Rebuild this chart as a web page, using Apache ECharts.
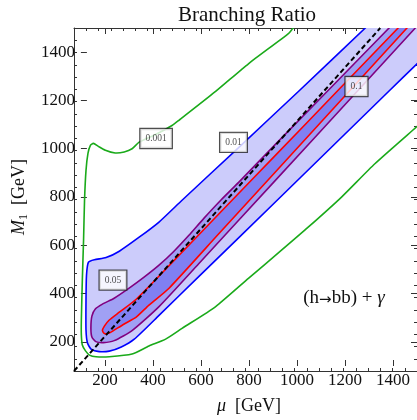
<!DOCTYPE html>
<html>
<head>
<meta charset="utf-8">
<script src="https://cdn.jsdelivr.net/npm/echarts@6/dist/echarts.min.js"></script>
<style>
  html, body { margin: 0; padding: 0; background: #fff; }
  #chart { width: 417px; height: 420px; }
</style>
</head>
<body>
<div id="chart"></div>
<script>
// Contour levels of the branching ratio, in the order their labels are placed
const levels = [0.001, 0.01, 0.05, 0.1];

// Tick values on both frame axes
const majorTicks = [200, 400, 600, 800, 1000, 1200, 1400];

// Reference line in the (mu, M1) plane
const diagonal = [[100, 100], [1350, 1500]];

// Contour BR = 0.001 (open curve, runs off the top and right edges)
const contour001 = [
  [1070, 1560], [995, 1500], [975, 1477], [812, 1354], [678, 1241], [528, 1123],
  [500, 1102], [435, 1066], [366, 1034], [337, 1007], [305, 994], [268, 990],
  [228, 1001], [199, 1017], [179, 1029], [167, 1021], [157, 988], [149, 919],
  [143, 797], [139, 634], [134, 471], [130, 308], [130, 247], [134, 206],
  [147, 182], [163, 165], [190, 158], [244, 158], [337, 169], [406, 202],
  [474, 230], [541, 274], [677, 362], [812, 478], [947, 593], [1057, 688],
  [1192, 810], [1328, 946], [1500, 1098], [1560, 1151]
];

// Contour BR = 0.01
const contour01 = [
  [1352, 1560], [1289, 1500], [1017, 1242], [773, 1013], [541, 797], [447, 708],
  [366, 646], [285, 589], [231, 563], [183, 554], [159, 544], [151, 491],
  [149, 389], [149, 267], [155, 214], [171, 188], [203, 179], [244, 181],
  [293, 198], [346, 230], [447, 327], [609, 485], [922, 790], [1388, 1245],
  [1500, 1354], [1560, 1413]
];
const contour01Closure = [[1620, 1620]];

// Contour BR = 0.05
const contour05 = [
  [1445, 1560], [1386, 1500], [1137, 1245], [918, 1021], [772, 870], [699, 797],
  [630, 723], [569, 654], [508, 589], [447, 532], [386, 483], [325, 438],
  [264, 397], [216, 373], [187, 353], [173, 324], [169, 275], [173, 239],
  [189, 220], [220, 216], [264, 224], [337, 265], [447, 363], [609, 538],
  [922, 878], [1259, 1245], [1493, 1500], [1548, 1560]
];

// Contour BR = 0.1
const contour1 = [
  [1481, 1560], [1423, 1500], [1177, 1245], [922, 980], [690, 740], [488, 530],
  [354, 393], [285, 340], [244, 308], [224, 283], [216, 265], [224, 253],
  [244, 255], [264, 267], [305, 292], [354, 320], [406, 369], [488, 438],
  [690, 659], [922, 912], [1226, 1245], [1459, 1500], [1514, 1560]
];

// Where each level's label sits (same order as levels)
const labelAt = [[435, 1049], [751, 1033], [259, 471], [1253, 1261]];

const SERIF = '"Liberation Serif", "Times New Roman", "DejaVu Serif", serif';
const FRAME = '#333';

function frameAxis(position, gridIndex, major, showLabels, extra) {
  const axis = {
    type: 'value', gridIndex: gridIndex, position: position,
    min: 100, max: 1500,
    axisLine: { show: !major, onZero: false, lineStyle: { color: FRAME, width: 1 } },
    splitLine: { show: false },
    axisTick: { show: true, inside: true, length: major ? 6 : 3, lineStyle: { color: FRAME, width: 1 } },
    axisLabel: { show: false }
  };
  if (major) {
    axis.axisTick.customValues = majorTicks;
    axis.axisLabel = {
      show: showLabels, customValues: majorTicks,
      formatter: function (v) { return String(v); },
      fontFamily: SERIF, fontSize: 17, color: '#111', margin: 6
    };
  } else {
    axis.interval = 50;
  }
  return Object.assign(axis, extra || {});
}

function contourSeries(points, closure, fill, stroke, width) {
  return {
    type: 'custom', xAxisIndex: 0, yAxisIndex: 0, clip: true, silent: true,
    data: [points[1]],
    renderItem: function (params, api) {
      const pts = points.map(function (p) { return api.coord(p); });
      if (fill) {
        const poly = pts.concat((closure || []).map(function (p) { return api.coord(p); }));
        return { type: 'polygon', shape: { points: poly, smooth: 0.2 }, style: { fill: fill, stroke: null } };
      }
      return { type: 'polyline', shape: { points: pts, smooth: 0.2 },
               style: { stroke: stroke, lineWidth: width, fill: null, lineJoin: 'round' } };
    }
  };
}

const chart = echarts.init(document.getElementById('chart'), null, { renderer: 'canvas' });

chart.setOption({
  animation: false,
  backgroundColor: '#fff',
  grid: [
    { left: 74, right: -3, top: 28, bottom: 49 },
    { left: 74, right: -3, top: 28, bottom: 49 }
  ],
  xAxis: [
    frameAxis('bottom', 0, false),
    frameAxis('top', 0, false),
    frameAxis('bottom', 1, true, true, {
      name: '{i|\u03bc}  [GeV]', nameLocation: 'middle', nameGap: 31,
      nameTextStyle: { fontFamily: SERIF, fontSize: 18, color: '#111',
        rich: { i: { fontFamily: SERIF, fontSize: 18, fontStyle: 'italic', color: '#111' } } }
    }),
    frameAxis('top', 1, true, false)
  ],
  yAxis: [
    frameAxis('left', 0, false),
    frameAxis('right', 0, false),
    frameAxis('left', 1, true, true, {
      name: '{i|M}{s|1}  [GeV]', nameLocation: 'middle', nameGap: 46, nameRotate: 90,
      nameTextStyle: { fontFamily: SERIF, fontSize: 18, color: '#111',
        rich: {
          i: { fontFamily: SERIF, fontSize: 18, fontStyle: 'italic', color: '#111' },
          s: { fontFamily: SERIF, fontSize: 12, color: '#111', lineHeight: 12, padding: [10, 0, 0, 0] }
        } }
    }),
    frameAxis('right', 1, true, false)
  ],
  graphic: [
    { type: 'text', x: 247, y: 15, silent: true,
      style: { text: 'Branching Ratio', fontFamily: SERIF, fontSize: 21, fill: '#111',
               align: 'center', verticalAlign: 'middle' } },
    { type: 'text', x: 344, y: 298, silent: true, z: 20,
      style: { text: '(h{a|\u2192}bb) + {g|\u03b3}', fontFamily: SERIF, fontSize: 19, fill: '#111',
               align: 'center', verticalAlign: 'middle',
               rich: {
                 a: { fontFamily: '"DejaVu Sans", sans-serif', fontSize: 15, fill: '#111', padding: [5, 0, 0, 0] },
                 g: { fontFamily: SERIF, fontSize: 19, fontStyle: 'italic', fill: '#111' }
               } } }
  ],
  series: [
    contourSeries(contour01, contour01Closure, '#CCCCFB'),
    contourSeries(contour05, null, '#A0A0F4'),
    contourSeries(contour1, null, '#8080F2'),
    contourSeries(contour01, null, null, '#0000FF', 1.6),
    contourSeries(contour05, null, null, '#800080', 1.6),
    contourSeries(contour1, null, null, '#FF0000', 1.6),
    contourSeries(contour001, null, null, '#1AAA1A', 1.6),
    {
      type: 'line', xAxisIndex: 0, yAxisIndex: 0, data: diagonal, symbol: 'none', silent: true,
      lineStyle: { color: '#000', width: 2, type: [5, 3] }, z: 5
    },
    {
      type: 'scatter', xAxisIndex: 0, yAxisIndex: 0, silent: true, z: 10,
      symbolSize: 1, itemStyle: { color: 'rgba(0,0,0,0)' },
      data: labelAt,
      label: {
        show: true, position: 'inside',
        formatter: function (p) { return String(levels[p.dataIndex]); },
        fontFamily: SERIF, fontSize: 9.5, color: '#222', lineHeight: 11,
        backgroundColor: '#ffffff', borderColor: '#222', borderWidth: 1.2,
        padding: [4, 5, 4, 5]
      }
    }
  ]
});
</script>
</body>
</html>
